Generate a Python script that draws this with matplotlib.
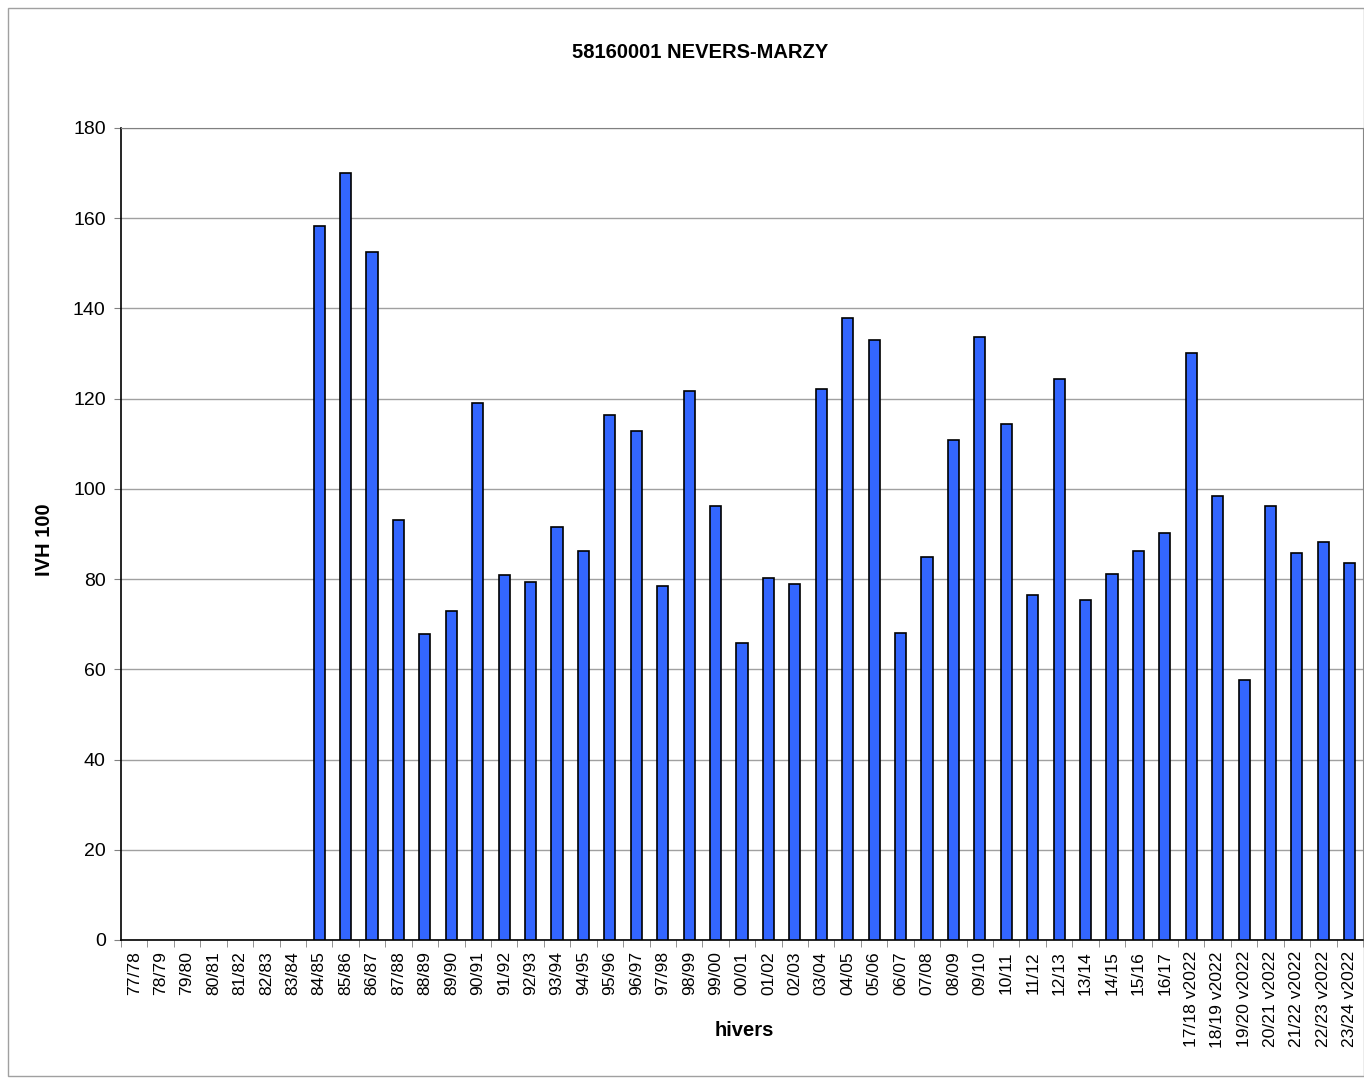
import numpy as np
import matplotlib.pyplot as plt

plt.rcParams['font.family'] = ['Liberation Sans', 'DejaVu Sans']

hivers = ['77/78', '78/79', '79/80', '80/81', '81/82', '82/83', '83/84',
          '84/85', '85/86', '86/87', '87/88', '88/89', '89/90', '90/91',
          '91/92', '92/93', '93/94', '94/95', '95/96', '96/97', '97/98',
          '98/99', '99/00', '00/01', '01/02', '02/03', '03/04', '04/05',
          '05/06', '06/07', '07/08', '08/09', '09/10', '10/11', '11/12',
          '12/13', '13/14', '14/15', '15/16', '16/17',
          '17/18 v2022', '18/19 v2022', '19/20 v2022', '20/21 v2022',
          '21/22 v2022', '22/23 v2022', '23/24 v2022']
ivh100 = [0, 0, 0, 0, 0, 0, 0,
          158.3, 170.0, 152.5, 93.1, 67.8, 72.9, 119.0,
          80.9, 79.4, 91.6, 86.2, 116.4, 112.8, 78.5,
          121.7, 96.2, 65.8, 80.2, 78.9, 122.1, 137.9,
          133.0, 68.1, 84.9, 110.8, 133.7, 114.4, 76.5,
          124.4, 75.4, 81.1, 86.2, 90.2,
          130.1, 98.4, 57.6, 96.2, 85.8, 88.2, 83.6]

fig = plt.figure(figsize=(13.64, 10.78), dpi=100)
ax = fig.add_axes([121 / 1364, 1 - 940 / 1078, 1242 / 1364, 812 / 1078])

# cadre extérieur du graphique
fig.add_artist(plt.Rectangle((8 / 1364, 0.002), 1 - 8 / 1364, 1 - 8 / 1078 - 0.002,
                             transform=fig.transFigure, fill=False,
                             edgecolor='#a0a0a0', linewidth=1))

x = np.arange(len(hivers))
vals = np.array(ivh100)
mask = vals > 0  # hivers sans valeur : pas de barre
ax.bar(x[mask], vals[mask], width=0.42, color='#3366ff', edgecolor='black',
       linewidth=1.2, zorder=3)

ax.set_xlim(-0.5, len(hivers) - 0.5)
ax.set_ylim(0, 180)
ax.set_yticks(np.arange(0, 181, 20))
ax.yaxis.grid(True, color='#a0a0a0', linewidth=1)
ax.set_axisbelow(True)

ax.set_xticks(x)
ax.set_xticklabels(hivers, rotation=90, fontsize=12.6)
ax.tick_params(axis='x', length=0, pad=8)
ax.set_xticks(np.arange(-0.5, len(hivers), 1), minor=True)
ax.tick_params(axis='x', which='minor', length=5, color='#808080')
ax.tick_params(axis='y', labelsize=14, length=5, color='#808080', pad=6)

for s in ['top', 'right']:
    ax.spines[s].set_color('#808080')
for s in ['left', 'bottom']:
    ax.spines[s].set_color('black')
    ax.spines[s].set_linewidth(1.2)

fig.text(700 / 1364, 1 - 52 / 1078, '58160001 NEVERS-MARZY', ha='center', va='center',
         fontsize=14.5, fontweight='bold')
fig.text(744 / 1364, 1 - 1030 / 1078, 'hivers', ha='center', va='center',
         fontsize=14.5, fontweight='bold')
fig.text(45 / 1364, 1 - 540 / 1078, 'IVH 100', ha='center', va='center',
         rotation=90, fontsize=14.5, fontweight='bold')

fig.savefig('out.png', dpi=100)
